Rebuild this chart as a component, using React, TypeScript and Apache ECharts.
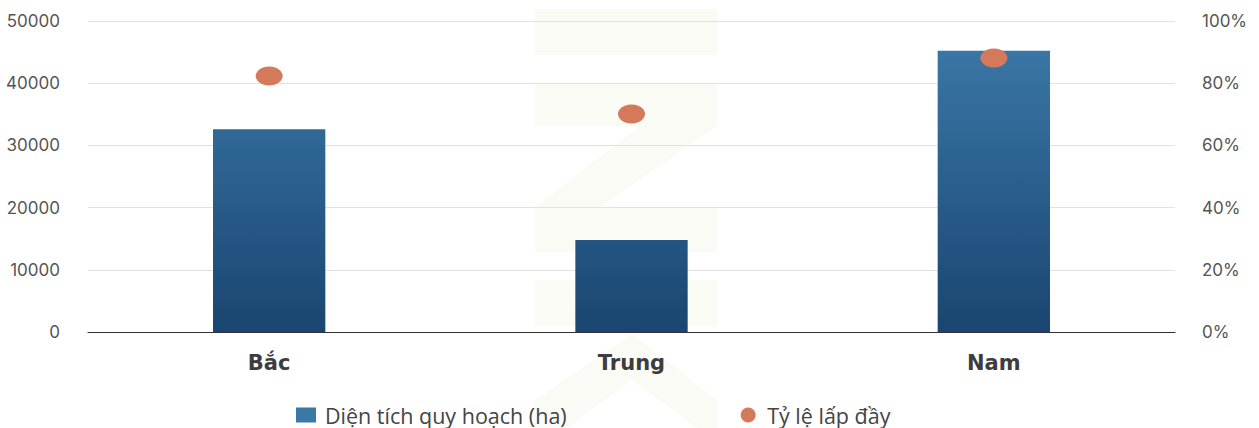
import React, { useEffect, useRef } from "react";
import * as echarts from "echarts";

const categories = ["Bắc", "Trung", "Nam"];
const areaValues = [32600, 14800, 45200];
const fillRates = [0.823, 0.701, 0.881];
const leftTicks = { min: 0, max: 50000, interval: 10000 };
const rightTicks = { min: 0, max: 1, interval: 0.2 };
const seriesNames = ["Diện tích quy hoạch (ha)", "Tỷ lệ lấp đầy"];

const WM = "#fbfbf6";

export default function App() {
  const ref = useRef<HTMLDivElement>(null);
  useEffect(() => {
    if (!ref.current) return;
    const chart = echarts.init(ref.current, null, { renderer: "svg" });
    const axisFont = "Inter, 'Noto Sans', sans-serif";
    chart.setOption({
      animation: false,
      backgroundColor: "#ffffff",
      graphic: [
        { type: "rect", silent: true, z: -10, shape: { x: 535, y: 9, width: 182, height: 46 }, style: { fill: WM } },
        { type: "rect", silent: true, z: -10, shape: { x: 535, y: 83, width: 182, height: 43 }, style: { fill: WM } },
        { type: "polygon", silent: true, z: -10, shape: { points: [[640, 126], [717, 126], [600, 207], [535, 207]] }, style: { fill: WM } },
        { type: "rect", silent: true, z: -10, shape: { x: 535, y: 207, width: 182, height: 45 }, style: { fill: WM } },
        { type: "rect", silent: true, z: -10, shape: { x: 535, y: 280, width: 182, height: 46 }, style: { fill: WM } },
        {
          type: "polygon", silent: true, z: -10,
          shape: { points: [[535, 428], [535, 400], [632, 334], [717, 400], [717, 428], [697, 428], [632, 380], [567, 428]] },
          style: { fill: WM },
        },
      ],
      grid: { left: 88, right: 84, top: 21, bottom: 96, containLabel: false },
      legend: {
        left: 296,
        top: 404,
        padding: 0,
        itemGap: 174,
        itemWidth: 20,
        itemHeight: 15,
        textStyle: {
          fontSize: 21.5,
          lineHeight: 21,
          color: "#444",
          fontFamily: "'Open Sans', sans-serif",
          padding: [0, 0, 0, 4],
        },
        data: [
          { name: seriesNames[0], icon: "rect", itemStyle: { color: "#3a78a6" } },
          { name: seriesNames[1], icon: "circle", itemStyle: { color: "#d4795a" } },
        ],
      },
      xAxis: {
        type: "category",
        data: categories,
        axisLine: { lineStyle: { color: "#333", width: 1 } },
        axisTick: { show: false },
        axisLabel: {
          margin: 20,
          fontSize: 21,
          fontWeight: "bold",
          color: "#3d3d3d",
          fontFamily: "'DejaVu Sans', sans-serif",
        },
      },
      yAxis: [
        {
          type: "value",
          ...leftTicks,
          axisLine: { show: false },
          axisTick: { show: false },
          splitLine: { lineStyle: { color: "#e2e2e2", width: 1 } },
          axisLabel: {
            margin: 28,
            fontSize: 17,
            color: "#555",
            fontFamily: axisFont,
            formatter: (v: number) => String(v),
          },
        },
        {
          type: "value",
          ...rightTicks,
          axisLine: { show: false },
          axisTick: { show: false },
          splitLine: { show: false },
          axisLabel: {
            margin: 27,
            fontSize: 17,
            color: "#555",
            fontFamily: axisFont,
            formatter: (v: number) => Math.round(v * 100) + "%",
          },
        },
      ],
      series: [
        {
          name: seriesNames[0],
          type: "bar",
          yAxisIndex: 0,
          data: areaValues,
          barWidth: "31%",
          itemStyle: {
            color: new echarts.graphic.LinearGradient(
              0, 21, 0, 332,
              [
                { offset: 0, color: "#3d7bab" },
                { offset: 1, color: "#1a4570" },
              ],
              true
            ),
          },
        },
        {
          name: seriesNames[1],
          type: "scatter",
          yAxisIndex: 1,
          data: fillRates,
          symbol: "circle",
          symbolSize: [27, 19],
          z: 5,
          itemStyle: { color: "#d4795a", opacity: 1 },
        },
      ],
    });
    return () => chart.dispose();
  }, []);
  return (
    <div
      ref={ref}
      style={{ position: "fixed", left: 0, top: 0, width: 1259, height: 428 }}
    />
  );
}
